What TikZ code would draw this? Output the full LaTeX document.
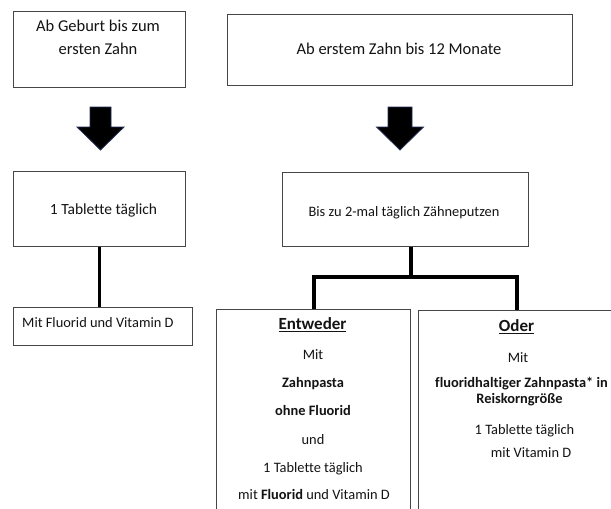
\documentclass[tikz,border=0pt]{standalone}
\usepackage{fontspec}
\setmainfont[Ligatures={NoCommon}]{Carlito}
\definecolor{boxgray}{RGB}{70,70,70}
\definecolor{arrowedge}{RGB}{35,45,90}
\definecolor{txt}{RGB}{20,20,20}
\begin{document}
\begin{tikzpicture}[x=1pt,y=-1pt,
  box/.style={draw=boxgray, line width=0.9pt, inner sep=0pt, anchor=north west},
  conn/.style={line width=3.3pt, black},
  bigarrow/.style={fill=black, draw=arrowedge, line width=0.8pt, line join=miter},
  big/.style={font=\fontsize{16.5}{20}\selectfont, text=txt, inner sep=0pt, anchor=base},
  head/.style={font=\fontsize{17}{20}\selectfont, text=txt, inner sep=0pt, anchor=base},
  mid/.style={font=\fontsize{15.5}{19}\selectfont, text=txt, inner sep=0pt, anchor=base},
  small/.style={font=\fontsize{14.4}{17}\selectfont, text=txt, inner sep=0pt, anchor=base}]
\clip (0,0) rectangle (611,509);
\fill[white] (0,0) rectangle (611,509);
% boxes
\node[box, minimum width=172pt, minimum height=76pt] (b1) at (13,11) {};
\node[box, minimum width=345pt, minimum height=71pt] (b2) at (227,14) {};
\node[box, minimum width=172pt, minimum height=75pt] (b3) at (13,171) {};
\node[box, minimum width=179pt, minimum height=38pt] (b4) at (13,307) {};
\node[box, minimum width=246pt, minimum height=74pt] (b5) at (282,172) {};
\node[box, minimum width=194pt, minimum height=215pt] (b6) at (216,309) {};
\node[box, minimum width=210pt, minimum height=215pt] (b7) at (418,310) {};
% texts
\node[big] (t1a) at (98,31.5) {Ab Geburt bis zum};
\node[big] (t1b) at (98,54.5) {ersten Zahn};
\node[big] (t2) at (399,54.5) {Ab erstem Zahn bis 12 Monate};
\node[mid] (t3) at (103.5,214.5) {1 Tablette täglich};
\node[small, anchor=base west] (t4) at (22,327.5) {Mit Fluorid und Vitamin D};
\node[small] (t5) at (404,216.5) {Bis zu 2-mal täglich Zähneputzen};
\node[head] (t6a) at (312.5,329.5) {\underline{\textbf{Entweder}}};
\node[small] (t6b) at (313,359.5) {Mit};
\node[small] (t6c) at (313,387.5) {\textbf{Zahnpasta}};
\node[small] (t6d) at (313,415.5) {\textbf{ohne Fluorid}};
\node[small] (t6e) at (313,444.5) {und};
\node[small] (t6f) at (313,472.5) {1 Tablette täglich};
\node[small] (t6g) at (314,499.5) {mit \textbf{Fluorid} und Vitamin D};
\node[head] (t7a) at (516.5,331.5) {\underline{\textbf{Oder}}};
\node[small] (t7b) at (518,362.5) {Mit};
\node[small] (t7c) at (521.5,387.5) {\textbf{fluoridhaltiger Zahnpasta* in}};
\node[small] (t7d) at (519.5,403.5) {\textbf{Reiskorngröße}};
\node[small] (t7e) at (524.5,434.5) {1 Tablette täglich};
\node[small] (t7f) at (531,457.5) {mit Vitamin D};
% block arrows
\coordinate (a1) at (100.5,107);
\draw[bigarrow] (a1) ++(-10.5,0) -- ++(21,0) -- ++(0,20) -- ++(13,0) -- ++(-23.5,23) -- ++(-23.5,-23) -- ++(13,0) -- cycle;
\coordinate (a2) at (400,107);
\draw[bigarrow] (a2) ++(-12,0) -- ++(24,0) -- ++(0,20) -- ++(11.5,0) -- ++(-23.5,23) -- ++(-23.5,-23) -- ++(11.5,0) -- cycle;
% connectors
\draw[conn] (b3.south) -- (b3.south |- b4.north);
\coordinate (j) at (411,277);
\coordinate (jl) at (314,277);
\coordinate (jr) at (517,277);
\draw[conn] (b5.south -| j) -- (j);
\draw[conn, line join=miter] (jl |- b6.north) -- (jl) -- (jr) -- (jr |- b7.north);
\end{tikzpicture}
\end{document}
